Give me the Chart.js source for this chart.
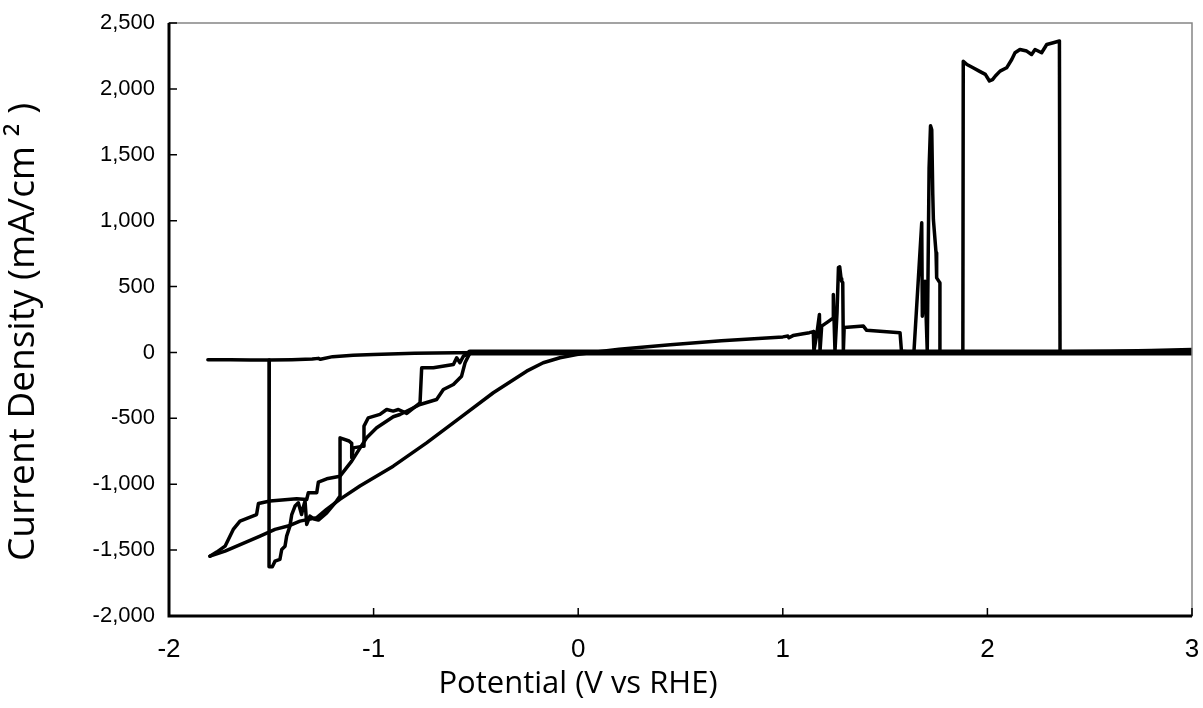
<!doctype html>
<html lang="en">
<head>
<meta charset="utf-8"/>
<title>Current Density vs Potential</title>
<script src="https://cdn.jsdelivr.net/npm/chart.js"></script>
<style>
*{box-sizing:border-box}
html,body{margin:0;padding:0;background:#fff}
.wrap{position:relative;width:1203px;height:708px}
</style>
</head>
<body>
<div class="wrap"><canvas id="cv"></canvas></div>
<script>
// potential (V vs RHE) and current density (mA/cm2), one pair of arrays per sweep piece
const baseV = [0, -0.3, -0.6, -0.8, -1.0, -1.1, -1.2, -1.26, -1.27, -1.3, -1.4, -1.51, -1.6, -1.7, -1.81];
const baseJ = [0, -1, -3, -7, -15, -22, -32, -52, -45, -50, -55, -57, -58, -55, -55];

const collapseV = [-1.51, -1.511, -1.495, -1.482, -1.458, -1.449, -1.433, -1.425, -1.409, -1.400, -1.384, -1.368, -1.352, -1.345, -1.335, -1.327, -1.311, -1.290, -1.270, -1.229, -1.181, -1.164, -1.164, -1.12, -1.107, -1.107, -1.099, -1.050, -1.047, -1.026, -0.969, -0.936, -0.904, -0.879, -0.838, -0.773, -0.765, -0.708, -0.610, -0.594, -0.578, -0.561, -0.545, -0.529];
const collapseJ = [-57, -1627, -1627, -1584, -1571, -1495, -1470, -1394, -1318, -1230, -1166, -1141, -1230, -1180, -1128, -1305, -1242, -1265, -1272, -1217, -1128, -1090, -648, -672, -690, -800, -724, -711, -559, -496, -470, -433, -445, -433, -463, -382, -116, -116, -91, -41, -78, -28, -15, -3];

const stepV = [-0.529, -0.537, -0.553, -0.570, -0.610, -0.659, -0.692, -0.773, -0.871, -0.904, -0.985, -1.034, -1.066, -1.107, -1.164, -1.229, -1.270, -1.278, -1.319, -1.327, -1.376, -1.506, -1.563, -1.572, -1.653, -1.686, -1.726, -1.767, -1.800];
const stepJ = [-7, -28, -78, -180, -243, -281, -357, -395, -471, -488, -572, -648, -724, -825, -939, -959, -984, -1065, -1065, -1116, -1111, -1128, -1146, -1230, -1280, -1343, -1470, -1515, -1546];

const smoothV = [-1.800, -1.726, -1.555, -1.482, -1.409, -1.360, -1.279, -1.230, -1.165, -1.067, -0.904, -0.741, -0.578, -0.415, -0.252, -0.171, -0.089, -0.007, 0.058];
const smoothJ = [-1546, -1508, -1394, -1343, -1313, -1280, -1255, -1191, -1115, -1014, -863, -686, -496, -306, -142, -78, -40, -15, -2];

const anodicV = [0.058, 0.2, 0.45, 0.7, 1.0, 1.025, 1.03, 1.05, 1.10, 1.13, 1.149, 1.152, 1.166, 1.179, 1.182, 1.19, 1.22, 1.247, 1.247, 1.255, 1.265, 1.272, 1.278, 1.285, 1.288, 1.293, 1.296, 1.30, 1.394, 1.41, 1.573, 1.58, 1.62, 1.641, 1.679, 1.682, 1.695, 1.706, 1.715, 1.722, 1.728, 1.733, 1.736, 1.749, 1.752, 1.768, 1.768, 1.80, 1.88, 1.882, 1.90, 1.93, 1.96, 1.99, 2.01, 2.025, 2.04, 2.062, 2.094, 2.119, 2.135, 2.159, 2.192, 2.216, 2.233, 2.265, 2.290, 2.322, 2.352, 2.355, 2.36, 2.6, 2.8, 3.0];
const anodicJ = [-2, 25, 58, 88, 118, 124, 112, 128, 142, 150, 158, 10, 136, 288, 10, 200, 232, 262, 440, 10, 300, 645, 650, 560, 540, 530, 10, 190, 200, 168, 150, 10, 4, 6, 984, 275, 541, 10, 1400, 1720, 1690, 1200, 1009, 756, 566, 528, 8, 5, 5, 2210, 2185, 2160, 2135, 2110, 2060, 2070, 2100, 2135, 2160, 2223, 2274, 2299, 2287, 2261, 2299, 2274, 2337, 2350, 2363, 8, 6, 10, 15, 23];

const zeroV = [-0.529, 0, 1, 2, 3];
const zeroJ = [0, 0, 0, 0, 0];

const xTicks = [-2, -1, 0, 1, 2, 3];
const yTicks = [-2000, -1500, -1000, -500, 0, 500, 1000, 1500, 2000, 2500];
const xTitle = 'Potential (V vs RHE)';
const yTitle = 'Current Density (mA/cm ² )';

function pts(xs, ys){ return xs.map((v,i)=>({x:v, y:ys[i]})) }
function line(xs, ys, w){
  return { data: pts(xs, ys), showLine:true, borderColor:'#000', borderWidth:w||3.5,
    pointRadius:0, borderJoinStyle:'round', borderCapStyle:'round', tension:0 };
}

// excel-like frame: grey box, black left/bottom axes, tick marks pointing inward
// both axis titles sit off-centre in the original, so they are drawn here
const frame = {
  id:'frame',
  afterDraw(chart){
    const {ctx, chartArea:{left,right,top,bottom}, scales:{x,y}} = chart;
    ctx.save();
    ctx.strokeStyle = '#858585'; ctx.lineWidth = 1.5;
    ctx.strokeRect(left, top, right-left, bottom-top);
    ctx.strokeStyle = '#000'; ctx.lineWidth = 3;
    ctx.beginPath(); ctx.moveTo(left, top); ctx.lineTo(left, bottom); ctx.lineTo(right, bottom); ctx.stroke();
    ctx.lineWidth = 1.5;
    ctx.beginPath();
    for (const v of xTicks){ const p = x.getPixelForValue(v); ctx.moveTo(p, bottom); ctx.lineTo(p, bottom-8); }
    for (const v of yTicks){ const p = y.getPixelForValue(v); ctx.moveTo(left, p); ctx.lineTo(left+8, p); }
    ctx.stroke();
    ctx.fillStyle = '#000';
    ctx.textAlign = 'center'; ctx.textBaseline = 'middle';
    ctx.font = '31px "Open Sans"';
    ctx.fillText(xTitle, 578, 684);
    ctx.translate(23, 332); ctx.rotate(-Math.PI/2);
    ctx.font = '37px "Open Sans"';
    ctx.fillText(yTitle, 0, 0);
    ctx.restore();
  }
};

Chart.defaults.color = '#000';
new Chart(document.getElementById('cv'), {
  type:'scatter',
  data:{ datasets:[
    line(zeroV, zeroJ, 6),
    line(baseV, baseJ),
    line(collapseV, collapseJ),
    line(stepV, stepJ),
    line(smoothV, smoothJ),
    line(anodicV, anodicJ)
  ]},
  options:{
    responsive:true, maintainAspectRatio:false, animation:false,
    layout:{ padding:{ top:23, right:11, left:0, bottom:0 } },
    plugins:{ legend:{display:false}, tooltip:{enabled:false} },
    scales:{
      x:{ type:'linear', min:-2, max:3,
        afterBuildTicks: a => { a.ticks = xTicks.map(v=>({value:v})) },
        afterFit: s => { s.height = 92; s.paddingLeft = 0; s.paddingRight = 0 },
        grid:{ display:false, drawTicks:false }, border:{ display:false },
        ticks:{ padding:18, font:{ family:'Liberation Sans', size:26 }, callback: v => String(v) },
        title:{ display:false }
      },
      y:{ type:'linear', min:-2000, max:2500,
        afterBuildTicks: a => { a.ticks = yTicks.map(v=>({value:v})) },
        afterFit: s => { s.width = 169; s.paddingTop = 0; s.paddingBottom = 0 },
        grid:{ display:false, drawTicks:false }, border:{ display:false },
        ticks:{ padding:14, font:{ family:'Liberation Sans', size:22 }, callback: v => v.toLocaleString('en-US') },
        title:{ display:false }
      }
    }
  },
  plugins:[frame]
});
</script>
</body>
</html>
